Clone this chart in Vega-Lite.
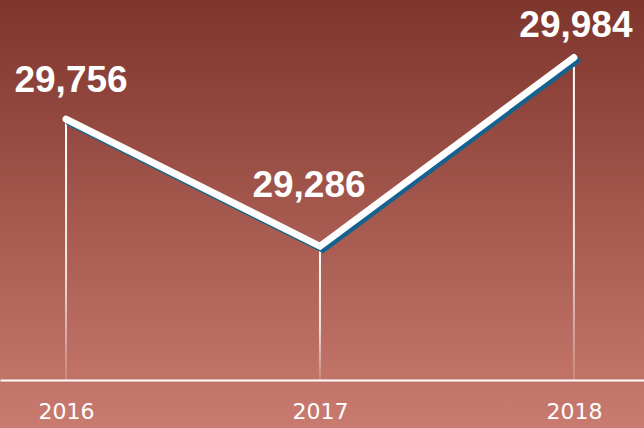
{
  "$schema": "https://vega.github.io/schema/vega-lite/v6.json",
  "width": 644,
  "height": 428,
  "autosize": {"type": "none"},
  "padding": 0,
  "background": "#c97a6f",
  "config": {
    "view": {
      "stroke": null,
      "fill": {
        "gradient": "linear",
        "x1": 0, "y1": 0, "x2": 0, "y2": 1,
        "stops": [
          {"offset": 0, "color": "#7e352c"},
          {"offset": 1, "color": "#ca7b70"}
        ]
      }
    }
  },
  "data": {
    "values": [
      {"year": 2016, "value": 29756},
      {"year": 2017, "value": 29286},
      {"year": 2018, "value": 29984}
    ]
  },
  "encoding": {
    "x": {
      "field": "year",
      "type": "quantitative",
      "scale": {"domain": [2015.74, 2018.276], "nice": false, "zero": false, "padding": 0},
      "axis": {
        "values": [2016, 2017, 2018],
        "format": "d",
        "title": null,
        "offset": -48,
        "grid": false,
        "ticks": false,
        "domainColor": "#ffffff",
        "domainWidth": 2,
        "labelColor": "#ffffff",
        "labelFont": "DejaVu Sans",
        "labelFontSize": 22,
        "labelPadding": 21,
        "labelFlush": false
      }
    },
    "y": {
      "field": "value",
      "type": "quantitative",
      "scale": {"domain": [28614, 30196.7], "nice": false, "zero": false, "padding": 0},
      "axis": null
    }
  },
  "layer": [
    {
      "mark": {
        "type": "bar",
        "size": 2,
        "fill": {
          "gradient": "linear",
          "x1": 0, "y1": 0, "x2": 0, "y2": 1,
          "stops": [
            {"offset": 0, "color": "rgba(255,255,255,1)"},
            {"offset": 0.6, "color": "rgba(255,255,255,0.8)"},
            {"offset": 1, "color": "rgba(255,255,255,0.15)"}
          ]
        }
      },
      "encoding": {
        "y2": {"datum": 28791.5}
      }
    },
    {
      "mark": {
        "type": "line",
        "stroke": "#14628f",
        "strokeWidth": 7,
        "strokeCap": "round",
        "xOffset": 3,
        "yOffset": 3
      }
    },
    {
      "mark": {
        "type": "line",
        "stroke": "#ffffff",
        "strokeWidth": 7,
        "strokeCap": "round"
      }
    },
    {
      "transform": [{"filter": "datum.year == 2016"}],
      "mark": {
        "type": "text",
        "color": "#ffffff",
        "font": "Liberation Sans",
        "fontWeight": "bold",
        "fontSize": 37,
        "baseline": "alphabetic",
        "align": "center",
        "dx": 5,
        "dy": -27
      },
      "encoding": {
        "text": {"field": "value", "type": "quantitative", "format": ","}
      }
    },
    {
      "transform": [{"filter": "datum.year == 2017"}],
      "mark": {
        "type": "text",
        "color": "#ffffff",
        "font": "Liberation Sans",
        "fontWeight": "bold",
        "fontSize": 37,
        "baseline": "alphabetic",
        "align": "center",
        "dx": -11,
        "dy": -49
      },
      "encoding": {
        "text": {"field": "value", "type": "quantitative", "format": ","}
      }
    },
    {
      "transform": [{"filter": "datum.year == 2018"}],
      "mark": {
        "type": "text",
        "color": "#ffffff",
        "font": "Liberation Sans",
        "fontWeight": "bold",
        "fontSize": 37,
        "baseline": "alphabetic",
        "align": "center",
        "dx": 2,
        "dy": -21
      },
      "encoding": {
        "text": {"field": "value", "type": "quantitative", "format": ","}
      }
    }
  ]
}
